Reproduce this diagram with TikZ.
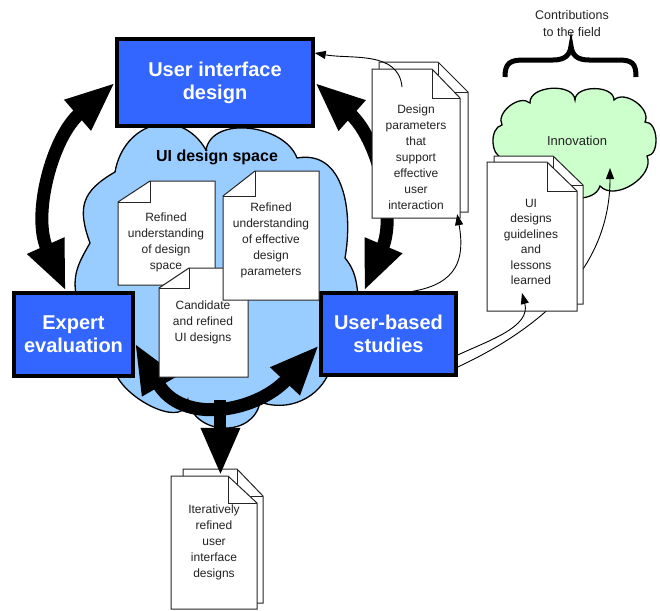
\documentclass[tikz,border=0pt]{standalone}
\usepackage{fontspec}
\setmainfont{Liberation Sans}
\usetikzlibrary{arrows.meta,calc}
\definecolor{boxblue}{HTML}{3366FF}
\definecolor{cloudblue}{HTML}{99CCFF}
\definecolor{cloudgreen}{HTML}{CCFFCC}
\definecolor{doctext}{HTML}{222222}
\pgfdeclarelayer{bg}
\pgfdeclarelayer{arr}
\pgfsetlayers{bg,arr,main}
\tikzset{
  mainbox/.style={draw=black, line width=3.5pt, fill=boxblue, text=white,
    font=\bfseries\fontsize{20}{23}\selectfont, align=center, inner sep=0pt},
  page/.style={draw=black!85, line width=1pt, fill=white},
  doctxt/.style={font=\fontsize{12}{16}\selectfont, text=doctext, align=center, inner sep=0pt},
  bigarrow/.style={line width=13pt, {Triangle[length=50pt,width=37pt]}-{Triangle[length=50pt,width=37pt]}},
  downarrow/.style={line width=12pt, -{Triangle[length=48pt,width=36pt]}},
  thinarrow/.style={line width=0.9pt, -{Triangle[length=11pt,width=8pt]}},
  cloudline/.style={draw=black, line width=1.3pt},
}
% page with folded corner at top left
\newcommand\pageTL[7]{%
  \filldraw[page] (#2,#3+#7) -- (#2+#6,#3) -- (#4,#3) -- (#4,#5) -- (#2,#5) -- cycle;
  \draw[page,fill=none] (#2,#3+#7) -- (#2+#6,#3+#7) -- (#2+#6,#3);
  \node[inner sep=0pt, minimum width={(#4-#2)*1pt}, minimum height={(#5-#3)*1pt}] (#1) at ({(#2+#4)/2},{(#3+#5)/2}) {};}
% page with folded corner at top right
\newcommand\pageTR[7]{%
  \filldraw[page] (#2,#3) -- (#4-#6,#3) -- (#4,#3+#7) -- (#4,#5) -- (#2,#5) -- cycle;
  \draw[page,fill=none] (#4-#6,#3) -- (#4-#6,#3+#7) -- (#4,#3+#7);
  \node[inner sep=0pt, minimum width={(#4-#2)*1pt}, minimum height={(#5-#3)*1pt}] (#1) at ({(#2+#4)/2},{(#3+#5)/2}) {};}
\begin{document}
\begin{tikzpicture}[x=1pt,y=-1pt]
\useasboundingbox (0,0) rectangle (660,610);

% ---------- boxes ----------
\node[mainbox, minimum width=196pt, minimum height=87pt] (uid) at (215,82.5) {User interface\\design};
\node[mainbox, minimum width=119pt, minimum height=83pt] (expert) at (73.5,334.5) {Expert\\evaluation};
\node[mainbox, minimum width=135pt, minimum height=82pt] (userb) at (388.5,334) {User-based\\studies};

% ---------- documents ----------
\pageTL{dA}{118}{181}{215}{285}{32}{21}
\node[doctxt] (tA) at (166,242) {Refined\\understanding\\of design\\space};
\pageTL{dC}{159}{268}{248}{377}{30}{20}
\node[doctxt] (tC) at (203,322) {Candidate\\and refined\\UI designs};
\pageTL{dB}{223}{171}{319}{300}{32}{25}
\node[doctxt] (tB) at (271,240) {Refined\\understanding\\of effective\\design\\parameters};

\pageTR{dDb}{379}{62}{468}{212}{30}{30}
\pageTR{dD}{372}{69}{460}{218}{28}{29}
\node[doctxt] (tD) at (416,157) {Design\\parameters\\that\\support\\effective\\user\\interaction};

\pageTR{dEb}{494}{156}{583}{304}{30}{29}
\pageTR{dE}{487}{162}{577}{311}{30}{29}
\node[doctxt, font=\fontsize{12}{15.4}\selectfont] (tE) at (531,242) {UI\\designs\\guidelines\\and\\lessons\\learned};

\pageTR{dFb}{183}{469}{263}{603}{26}{27}
\pageTR{dF}{171}{476}{257}{609}{29}{27}
\node[doctxt] (tF) at (214,542) {Iteratively\\refined\\user\\interface\\designs};

% ---------- labels ----------
\node[font=\bfseries\fontsize{16}{19}\selectfont, inner sep=0pt] (space) at (217,157) {UI design space};
\node[font=\fontsize{12.5}{17}\selectfont, text=doctext, align=center, inner sep=0pt] (contrib) at (572,24) {Contributions\\to the field};
\node[font=\fontsize{13}{16}\selectfont, text=doctext, inner sep=0pt] (inn) at (577,141) {Innovation};
\coordinate (innTip) at (610,168);
\coordinate (eTip) at (522,293);
\coordinate (dDhook) at (402,87);

% ---------- clouds ----------
\begin{pgfonlayer}{bg}
\filldraw[cloudline, fill=cloudblue] (206,150) to[out=80,in=110] (297,158)
  to[out=10,in=80,looseness=1.1] (345,258)
  to[out=-50,in=100] (360,310) -- (375,360) -- (330,370)
  to[out=-110,in=-20] (260,402)
  to[out=-100,in=-80,looseness=1.3] (188,400)
  to[out=-95,in=-60] (118,378) -- (90,340) -- (76,294)
  to[out=100,in=-120] (90,243)
  to[out=110,in=-150,looseness=1.3] (115,172)
  to[out=80,in=120,looseness=1.4] (206,150) -- cycle;
\filldraw[cloudline, fill=cloudgreen] (502,125) to[bend left=80] (530,103)
  to[bend left=90] (575,100) to[bend left=90] (614,100)
  to[bend left=80] (645,122) to[bend left=90] (647,156)
  to[bend left=80] (600,186) to[bend left=80] (550,181)
  to[bend left=70] (503,158) to[bend left=80] (502,125) -- cycle;
\end{pgfonlayer}

% ---------- brace ----------
\draw[line width=5pt] (505,77) .. controls (505,63) and (510,60) .. (524,60) -- (553,60)
  .. controls (565,60) and (570,55) .. (571,46)
  .. controls (572,55) and (577,60) .. (589,60) -- (618,60)
  .. controls (632,60) and (636,63) .. (636,77);

% ---------- big arrows ----------
\begin{pgfonlayer}{arr}
\draw[bigarrow] (uid.west) to[out=221,in=114] ([xshift=-7.5pt]expert.north);
\draw[bigarrow] (uid.east) to[out=-41.5,in=67] ([xshift=-24.5pt]userb.north);
\draw[bigarrow] ([yshift=-8.5pt]expert.east) to[out=-60,in=226.7,looseness=1.3]
  coordinate[pos=0.5] (arcmid) ([yshift=-11pt]userb.west);
\draw[thinarrow] ([yshift=-33pt]userb.east) to[out=25,in=-90] (innTip);
\end{pgfonlayer}
\draw[downarrow] (arcmid) -- (arcmid |- dF.north);

% ---------- thin arrows ----------
\draw[thinarrow] (dDhook) to[out=95,in=-10] ([yshift=29.5pt]uid.east);
\draw[thinarrow] ([xshift=24.5pt]userb.north) to[out=10,in=-80,looseness=1.3] ([shift={(-3pt,4pt)}]dD.south east);
\draw[thinarrow] ([yshift=-21pt]userb.east) to[out=25,in=-75] (eTip);
\end{tikzpicture}
\end{document}
